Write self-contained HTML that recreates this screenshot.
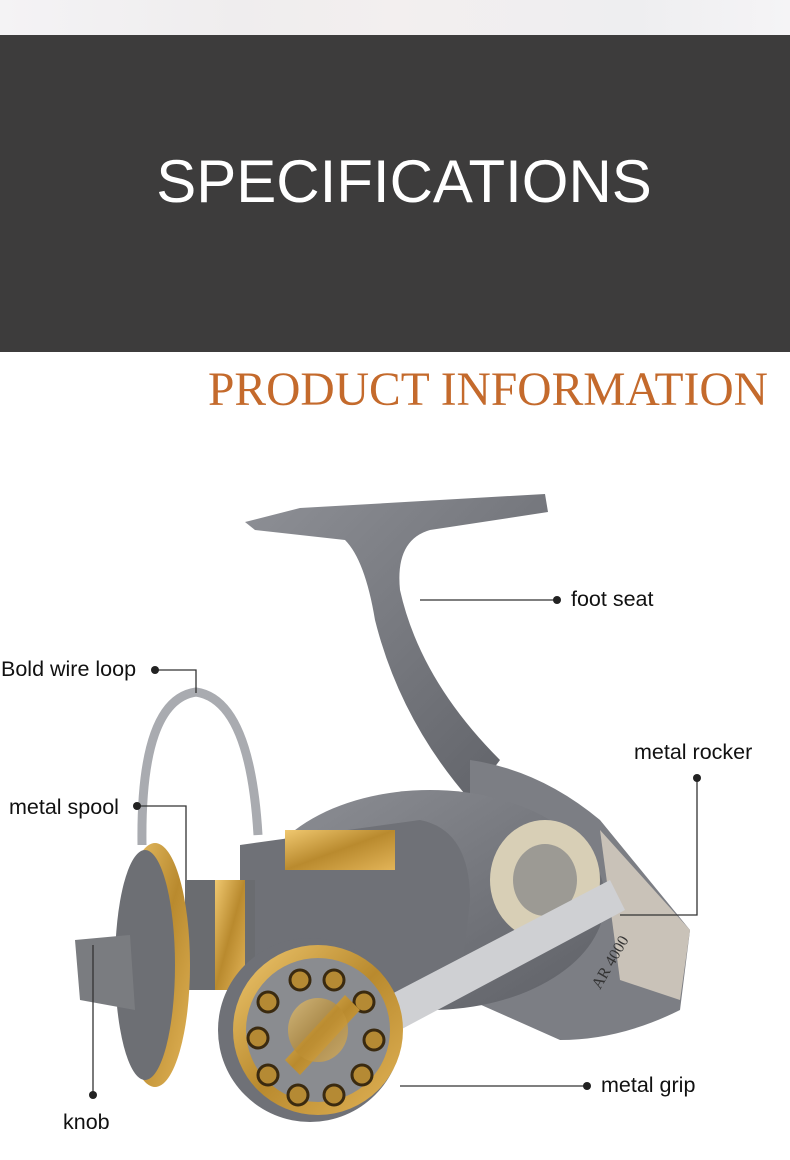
<!DOCTYPE html>
<html><head><meta charset="utf-8"><style>
html,body{margin:0;padding:0;width:790px;height:1160px;overflow:hidden;background:#fff;font-family:"Liberation Sans",sans-serif}
.top{position:absolute;left:0;top:0;width:790px;height:35px;background:linear-gradient(90deg,#f4f3f5,#efedee 30%,#f3efef 50%,#eeeef0 80%,#f5f4f6)}
.band{position:absolute;left:0;top:35px;width:790px;height:317px;background:#3d3c3c}
.band div{position:absolute;left:0;width:790px;top:112px;text-align:center;color:#fff;font-size:60px;padding-left:18px;box-sizing:border-box}
.pi{position:absolute;left:208px;top:363px;font-family:"Liberation Serif",serif;font-size:47.5px;color:#c46a2c;white-space:nowrap;letter-spacing:0px}
.l{position:absolute;font-size:21.5px;color:#111;white-space:nowrap}
svg{position:absolute;left:0;top:0}
</style></head><body>
<div class="top"></div>
<div class="band"><div>SPECIFICATIONS</div></div>
<div class="pi">PRODUCT INFORMATION</div>
<svg width="790" height="1160" viewBox="0 0 790 1160">
<defs>
<linearGradient id="g" x1="0" y1="0" x2="1" y2="1"><stop offset="0" stop-color="#8e9096"/><stop offset="1" stop-color="#5e6066"/></linearGradient>
<linearGradient id="gold" x1="0" y1="0" x2="1" y2="1"><stop offset="0" stop-color="#f0c870"/><stop offset=".5" stop-color="#b98a2e"/><stop offset="1" stop-color="#e2b458"/></linearGradient>
</defs>
<path d="M245,522 L300,508 L545,494 L548,512 L430,530 Q395,540 400,590 Q420,680 500,760 L470,800 Q400,720 375,620 Q365,560 345,540 L255,530 Z" fill="url(#g)"/>
<path d="M470,760 Q540,770 600,820 L690,930 L680,1010 Q620,1040 560,1040 L470,1000 Z" fill="#7c7e84"/>
<path d="M600,830 L690,930 L680,1000 L620,980 Z" fill="#c9c2b8"/>
<ellipse cx="430" cy="900" rx="175" ry="110" fill="url(#g)"/>
<ellipse cx="545" cy="880" rx="55" ry="60" fill="#d8cfb6"/>
<ellipse cx="545" cy="880" rx="32" ry="36" fill="#9c9a94"/>
<path d="M240,845 L420,820 Q470,830 470,900 L460,990 L240,990 Z" fill="#6f7177"/>
<path d="M285,830 L395,830 L395,870 L285,870 Z" fill="url(#gold)"/>
<rect x="185" y="880" width="70" height="110" fill="#6a6c70"/>
<rect x="215" y="880" width="30" height="110" fill="url(#gold)"/>
<ellipse cx="155" cy="965" rx="35" ry="122" fill="url(#gold)"/>
<ellipse cx="145" cy="965" rx="30" ry="115" fill="#6d6f74"/>
<path d="M75,940 L130,935 L135,1010 L80,1000 Z" fill="#7a7c80"/>
<path d="M142,845 Q140,700 196,692 Q250,700 258,835" fill="none" stroke="#a9abb0" stroke-width="9"/>
<path d="M380,1000 L610,880 L625,910 L400,1030 Z" fill="#cfd0d3"/>
<circle cx="310" cy="1030" r="92" fill="#6f7177"/>
<circle cx="318" cy="1030" r="85" fill="url(#gold)"/>
<circle cx="318" cy="1030" r="72" fill="#8a8c90"/>
<g fill="#b58a34" stroke="#3a2a10" stroke-width="3">
<circle cx="300" cy="980" r="10"/><circle cx="334" cy="980" r="10"/><circle cx="364" cy="1002" r="10"/><circle cx="374" cy="1040" r="10"/><circle cx="362" cy="1075" r="10"/><circle cx="334" cy="1095" r="10"/><circle cx="298" cy="1095" r="10"/><circle cx="268" cy="1075" r="10"/><circle cx="258" cy="1038" r="10"/><circle cx="268" cy="1002" r="10"/>
</g>
<path d="M285,1060 L345,995 L360,1010 L300,1075 Z" fill="url(#gold)"/>
<ellipse cx="318" cy="1030" rx="30" ry="32" fill="url(#gold)" opacity=".7"/>
<text x="600" y="990" transform="rotate(-60 600 990)" font-family="Liberation Serif" font-size="16" fill="#333">AR 4000</text>
<g stroke="#333" stroke-width="1.3" fill="none">
<path d="M420,600 H557"/>
<path d="M155,670 H196 V693"/>
<path d="M697,778 V915 H620"/>
<path d="M137,806 H186 V880"/>
<path d="M93,945 V1095"/>
<path d="M400,1086 H587"/>
</g>
<g fill="#222">
<circle cx="557" cy="600" r="4"/><circle cx="155" cy="670" r="4"/><circle cx="697" cy="778" r="4"/><circle cx="137" cy="806" r="4"/><circle cx="93" cy="1095" r="4"/><circle cx="587" cy="1086" r="4"/>
</g>
</svg>
<div class="l" style="left:571px;top:587px">foot seat</div>
<div class="l" style="left:1px;top:657px">Bold wire loop</div>
<div class="l" style="left:634px;top:740px">metal rocker</div>
<div class="l" style="left:9px;top:795px">metal spool</div>
<div class="l" style="left:63px;top:1110px">knob</div>
<div class="l" style="left:601px;top:1073px">metal grip</div>
</body></html>
